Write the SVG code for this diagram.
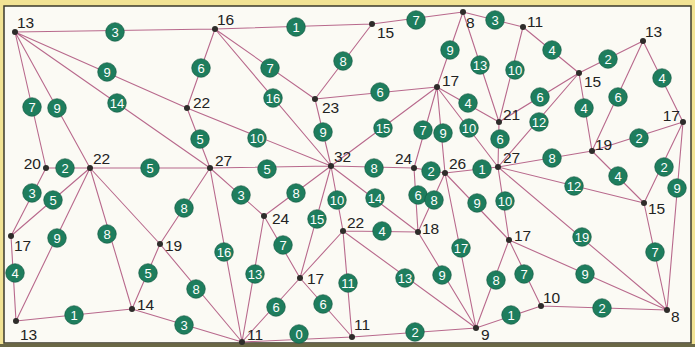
<svg xmlns="http://www.w3.org/2000/svg" width="695" height="347" viewBox="0 0 695 347">
<style>
.e{stroke:#b8698c;stroke-width:1.1;fill:none}
.d{fill:#2e2c2a}
.n{font-family:"Liberation Sans",Arial,sans-serif;font-size:15.5px;fill:#222}
.w circle{fill:#1e7d5d;stroke:#12553f;stroke-width:0.6;r:9.3px}
.w text{font-family:"Liberation Sans",Arial,sans-serif;font-size:13px;fill:#fff;text-anchor:middle}
</style>
<rect width="695" height="347" fill="#f2e394"/>
<rect x="4" y="6" width="687" height="337" fill="#fbfaf4" stroke="#3b3a2c" stroke-width="1.5"/>
<rect x="0" y="344" width="695" height="3" fill="#6a6845"/>
<g id="connectors">
<path class="e" d="M15 32L215 29M15 32L187 108M15 32L210 168M15 32L46 168M15 32L90 168
M215 29L372 24M215 29L187 108M215 29L315 99M215 29L331 166
M372 24L463 12M372 24L315 99
M463 12L523 27M463 12L437 87M463 12L499 122
M523 27L579 73M523 27L499 122
M579 73L643 41M579 73L499 122M579 73L498 167M579 73L592 151
M643 41L683 122M643 41L592 151
M683 122L592 151M683 122L644 203M683 122L667 310
M592 151L498 167M592 151L644 203
M644 203L498 167M644 203L667 310
M667 310L509 240M667 310L498 167M667 310L541 306
M541 306L509 240M541 306L476 328
M476 328L509 240M476 328L445 173M476 328L418 232M476 328L343 231M476 328L352 337
M352 337L242 342M352 337L343 231M352 337L300 278
M242 342L300 278M242 342L264 216M242 342L210 168M242 342L160 244M242 342L132 309
M300 278L264 216M300 278L343 231M300 278L331 166
M343 231L418 232M343 231L331 166
M418 232L414 168M418 232L445 173M418 232L331 166
M132 309L16 321M132 309L160 244M132 309L90 168
M16 321L11 236M16 321L90 168
M11 236L46 168M11 236L90 168
M46 168L90 168
M90 168L210 168M90 168L160 244
M210 168L187 108M210 168L264 216M210 168L160 244M210 168L331 166
M187 108L331 166
M315 99L331 166M315 99L437 87
M331 166L264 216M331 166L414 168M331 166L437 87
M437 87L499 122M437 87L414 168M437 87L445 173M437 87L498 167
M499 122L498 167
M414 168L445 173
M445 173L498 167M445 173L509 240
M498 167L509 240"/>
<g class="w">
<circle cx="115" cy="32" r="9.3"/><text x="115" y="36.6">3</text>
<circle cx="107" cy="72" r="9.3"/><text x="107" y="76.6">9</text>
<circle cx="117" cy="103" r="9.3"/><text x="117" y="107.6">14</text>
<circle cx="32" cy="107" r="9.3"/><text x="32" y="111.6">7</text>
<circle cx="57" cy="108" r="9.3"/><text x="57" y="112.6">9</text>
<circle cx="296" cy="27" r="9.3"/><text x="296" y="31.6">1</text>
<circle cx="201" cy="68" r="9.3"/><text x="201" y="72.6">6</text>
<circle cx="270" cy="68" r="9.3"/><text x="270" y="72.6">7</text>
<circle cx="273" cy="98" r="9.3"/><text x="273" y="102.6">16</text>
<circle cx="416" cy="20" r="9.3"/><text x="416" y="24.6">7</text>
<circle cx="343" cy="61" r="9.3"/><text x="343" y="65.6">8</text>
<circle cx="495" cy="20" r="9.3"/><text x="495" y="24.6">3</text>
<circle cx="450" cy="50" r="9.3"/><text x="450" y="54.6">9</text>
<circle cx="480" cy="65" r="9.3"/><text x="480" y="69.6">13</text>
<circle cx="552" cy="50" r="9.3"/><text x="552" y="54.6">4</text>
<circle cx="515" cy="70" r="9.3"/><text x="515" y="74.6">10</text>
<circle cx="608" cy="59" r="9.3"/><text x="608" y="63.6">2</text>
<circle cx="540" cy="97" r="9.3"/><text x="540" y="101.6">6</text>
<circle cx="539" cy="122" r="9.3"/><text x="539" y="126.6">12</text>
<circle cx="584" cy="108" r="9.3"/><text x="584" y="112.6">4</text>
<circle cx="662" cy="78" r="9.3"/><text x="662" y="82.6">4</text>
<circle cx="618" cy="97" r="9.3"/><text x="618" y="101.6">6</text>
<circle cx="639" cy="138" r="9.3"/><text x="639" y="142.6">2</text>
<circle cx="664" cy="167" r="9.3"/><text x="664" y="171.6">2</text>
<circle cx="677" cy="188" r="9.3"/><text x="677" y="192.6">9</text>
<circle cx="552" cy="158" r="9.3"/><text x="552" y="162.6">8</text>
<circle cx="618" cy="176" r="9.3"/><text x="618" y="180.6">4</text>
<circle cx="574" cy="186" r="9.3"/><text x="574" y="190.6">12</text>
<circle cx="655" cy="252" r="9.3"/><text x="655" y="256.6">7</text>
<circle cx="585" cy="274" r="9.3"/><text x="585" y="278.6">9</text>
<circle cx="582" cy="237" r="9.3"/><text x="582" y="241.6">19</text>
<circle cx="602" cy="308" r="9.3"/><text x="602" y="312.6">2</text>
<circle cx="524" cy="274" r="9.3"/><text x="524" y="278.6">7</text>
<circle cx="511" cy="315" r="9.3"/><text x="511" y="319.6">1</text>
<circle cx="496" cy="280" r="9.3"/><text x="496" y="284.6">8</text>
<circle cx="461" cy="248" r="9.3"/><text x="461" y="252.6">17</text>
<circle cx="442" cy="275" r="9.3"/><text x="442" y="279.6">9</text>
<circle cx="405" cy="278" r="9.3"/><text x="405" y="282.6">13</text>
<circle cx="415" cy="332" r="9.3"/><text x="415" y="336.6">2</text>
<circle cx="299" cy="334" r="9.3"/><text x="299" y="338.6">0</text>
<circle cx="348" cy="283" r="9.3"/><text x="348" y="287.6">11</text>
<circle cx="323" cy="304" r="9.3"/><text x="323" y="308.6">6</text>
<circle cx="276" cy="307" r="9.3"/><text x="276" y="311.6">6</text>
<circle cx="255" cy="274" r="9.3"/><text x="255" y="278.6">13</text>
<circle cx="224" cy="252" r="9.3"/><text x="224" y="256.6">16</text>
<circle cx="196" cy="289" r="9.3"/><text x="196" y="293.6">8</text>
<circle cx="184" cy="325" r="9.3"/><text x="184" y="329.6">3</text>
<circle cx="283" cy="245" r="9.3"/><text x="283" y="249.6">7</text>
<circle cx="317" cy="219" r="9.3"/><text x="317" y="223.6">15</text>
<circle cx="382" cy="231" r="9.3"/><text x="382" y="235.6">4</text>
<circle cx="337" cy="200" r="9.3"/><text x="337" y="204.6">10</text>
<circle cx="418" cy="195" r="9.3"/><text x="418" y="199.6">6</text>
<circle cx="434" cy="200" r="9.3"/><text x="434" y="204.6">8</text>
<circle cx="375" cy="198" r="9.3"/><text x="375" y="202.6">14</text>
<circle cx="74" cy="315" r="9.3"/><text x="74" y="319.6">1</text>
<circle cx="148" cy="273" r="9.3"/><text x="148" y="277.6">5</text>
<circle cx="107" cy="234" r="9.3"/><text x="107" y="238.6">8</text>
<circle cx="15" cy="273" r="9.3"/><text x="15" y="277.6">4</text>
<circle cx="57" cy="238" r="9.3"/><text x="57" y="242.6">9</text>
<circle cx="32" cy="193" r="9.3"/><text x="32" y="197.6">3</text>
<circle cx="53" cy="200" r="9.3"/><text x="53" y="204.6">5</text>
<circle cx="65" cy="168" r="9.3"/><text x="65" y="172.6">2</text>
<circle cx="150" cy="168" r="9.3"/><text x="150" y="172.6">5</text>
<circle cx="200" cy="139" r="9.3"/><text x="200" y="143.6">5</text>
<circle cx="241" cy="195" r="9.3"/><text x="241" y="199.6">3</text>
<circle cx="184" cy="208" r="9.3"/><text x="184" y="212.6">8</text>
<circle cx="267" cy="169" r="9.3"/><text x="267" y="173.6">5</text>
<circle cx="257" cy="138" r="9.3"/><text x="257" y="142.6">10</text>
<circle cx="323" cy="132" r="9.3"/><text x="323" y="136.6">9</text>
<circle cx="380" cy="92" r="9.3"/><text x="380" y="96.6">6</text>
<circle cx="296" cy="193" r="9.3"/><text x="296" y="197.6">8</text>
<circle cx="374" cy="168" r="9.3"/><text x="374" y="172.6">8</text>
<circle cx="383" cy="128" r="9.3"/><text x="383" y="132.6">15</text>
<circle cx="468" cy="103" r="9.3"/><text x="468" y="107.6">4</text>
<circle cx="423" cy="130" r="9.3"/><text x="423" y="134.6">7</text>
<circle cx="443" cy="133" r="9.3"/><text x="443" y="137.6">9</text>
<circle cx="469" cy="128" r="9.3"/><text x="469" y="132.6">10</text>
<circle cx="500" cy="139" r="9.3"/><text x="500" y="143.6">6</text>
<circle cx="431" cy="171" r="9.3"/><text x="431" y="175.6">2</text>
<circle cx="482" cy="169" r="9.3"/><text x="482" y="173.6">1</text>
<circle cx="477" cy="203" r="9.3"/><text x="477" y="207.6">9</text>
<circle cx="505" cy="201" r="9.3"/><text x="505" y="205.6">10</text>
</g>
</g>
<g id="nA"><circle class="d" cx="15" cy="32" r="3"/><text class="n" x="17" y="28">13</text></g>
<g id="nB"><circle class="d" cx="215" cy="29" r="3"/><text class="n" x="217" y="25">16</text></g>
<g id="nC"><circle class="d" cx="372" cy="24" r="3"/><text class="n" x="377" y="38">15</text></g>
<g id="nD"><circle class="d" cx="463" cy="12" r="3"/><text class="n" x="466" y="28">8</text></g>
<g id="nE"><circle class="d" cx="523" cy="27" r="3"/><text class="n" x="527" y="27">11</text></g>
<g id="nF"><circle class="d" cx="579" cy="73" r="3"/><text class="n" x="584" y="87">15</text></g>
<g id="nG"><circle class="d" cx="643" cy="41" r="3"/><text class="n" x="645" y="37">13</text></g>
<g id="nH"><circle class="d" cx="683" cy="122" r="3"/><text class="n" x="680" y="121" text-anchor="end">17</text></g>
<g id="nI"><circle class="d" cx="592" cy="151" r="3"/><text class="n" x="595" y="150">19</text></g>
<g id="nJ"><circle class="d" cx="644" cy="203" r="3"/><text class="n" x="648" y="214">15</text></g>
<g id="nK"><circle class="d" cx="667" cy="310" r="3"/><text class="n" x="671" y="322">8</text></g>
<g id="nL"><circle class="d" cx="541" cy="306" r="3"/><text class="n" x="543" y="303">10</text></g>
<g id="nM"><circle class="d" cx="476" cy="328" r="3"/><text class="n" x="481" y="340">9</text></g>
<g id="nN"><circle class="d" cx="352" cy="337" r="3"/><text class="n" x="354" y="330">11</text></g>
<g id="nO"><circle class="d" cx="242" cy="342" r="3"/><text class="n" x="247" y="340">11</text></g>
<g id="nP"><circle class="d" cx="300" cy="278" r="3"/><text class="n" x="307" y="284">17</text></g>
<g id="nQ"><circle class="d" cx="343" cy="231" r="3"/><text class="n" x="347" y="228">22</text></g>
<g id="nR"><circle class="d" cx="418" cy="232" r="3"/><text class="n" x="422" y="234">18</text></g>
<g id="nS"><circle class="d" cx="132" cy="309" r="3"/><text class="n" x="137" y="310">14</text></g>
<g id="nT"><circle class="d" cx="16" cy="321" r="3"/><text class="n" x="20" y="340">13</text></g>
<g id="nU"><circle class="d" cx="11" cy="236" r="3"/><text class="n" x="14" y="251">17</text></g>
<g id="nV"><circle class="d" cx="46" cy="168" r="3"/><text class="n" x="41" y="169" text-anchor="end">20</text></g>
<g id="nW"><circle class="d" cx="90" cy="168" r="3"/><text class="n" x="93" y="164">22</text></g>
<g id="nX"><circle class="d" cx="210" cy="168" r="3"/><text class="n" x="215" y="166">27</text></g>
<g id="nY"><circle class="d" cx="187" cy="108" r="3"/><text class="n" x="193" y="108">22</text></g>
<g id="nZ"><circle class="d" cx="315" cy="99" r="3"/><text class="n" x="322" y="113">23</text></g>
<g id="nAA"><circle class="d" cx="331" cy="166" r="3"/><text class="n" x="334" y="162">32</text></g>
<g id="nAB"><circle class="d" cx="264" cy="216" r="3"/><text class="n" x="272" y="224">24</text></g>
<g id="nAC"><circle class="d" cx="160" cy="244" r="3"/><text class="n" x="165" y="251">19</text></g>
<g id="nAD"><circle class="d" cx="437" cy="87" r="3"/><text class="n" x="442" y="86">17</text></g>
<g id="nAE"><circle class="d" cx="499" cy="122" r="3"/><text class="n" x="503" y="120">21</text></g>
<g id="nAF"><circle class="d" cx="414" cy="168" r="3"/><text class="n" x="395" y="164">24</text></g>
<g id="nAG"><circle class="d" cx="445" cy="173" r="3"/><text class="n" x="449" y="169">26</text></g>
<g id="nAH"><circle class="d" cx="498" cy="167" r="3"/><text class="n" x="503" y="163">27</text></g>
<g id="nAI"><circle class="d" cx="509" cy="240" r="3"/><text class="n" x="514" y="241">17</text></g>
</svg>
